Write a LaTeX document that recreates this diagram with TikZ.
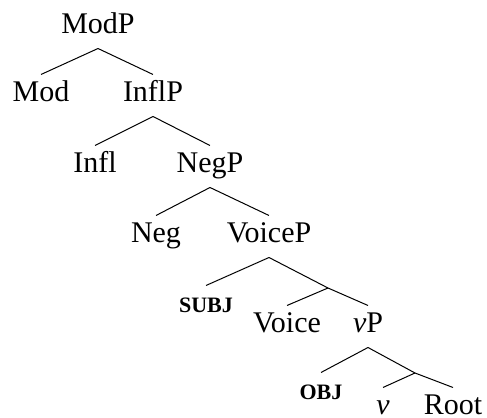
\documentclass[12pt,tikz,border=0pt]{standalone}
\usepackage{fontspec}
\setmainfont{Liberation Serif}
\usetikzlibrary{positioning}
\tikzset{cat/.style={inner xsep=0pt, inner ysep=3.2pt, text height=7.6pt, text depth=2.4pt, anchor=base},
	feat/.style={cat, font=\fontsize{8.8}{10}\selectfont\bfseries}}

\begin{document}
\begin{tikzpicture}[x=0.4pt, y=-0.4pt, line width=0.4pt]
\useasboundingbox (0,0) rectangle (487,418);
\node[cat] (ModP) at (98,34) {ModP};
\node[cat] (Mod) at (41,102) {Mod};
\node[cat] (InflP) at (153,102) {InflP};
\node[cat] (Infl) at (95,173) {Infl};
\node[cat] (NegP) at (210,173) {NegP};
\node[cat] (Neg) at (156,243) {Neg};
\node[cat] (VoiceP) at (269,243) {VoiceP};
\node[feat] (Subj) at (206,313) {SUBJ};
\node[cat] (Voice) at (287,333) {Voice};
\node[cat] (vP) at (368,333) {\textit{v}P};
\node[feat] (Obj) at (321,400) {OBJ};
\node[cat] (v) at (383,415) {\textit{v}};
\node[cat] (Root) at (453,415) {Root};
\coordinate (Vbar) at (328,288);
\coordinate (vbar) at (415,373);
\draw (ModP.south) -- (Mod.north);
\draw (ModP.south) -- (InflP.north);
\draw (InflP.south) -- (Infl.north);
\draw (InflP.south) -- (NegP.north);
\draw (NegP.south) -- (Neg.north);
\draw (NegP.south) -- (VoiceP.north);
\draw (VoiceP.south) -- (Subj.north);
\draw (VoiceP.south) -- (Vbar) -- (vP.north);
\draw (Vbar) -- (Voice.north);
\draw (vP.south) -- (Obj.north);
\draw (vP.south) -- (vbar) -- (Root.north);
\draw (vbar) -- (v.north);
\end{tikzpicture}
\end{document}
